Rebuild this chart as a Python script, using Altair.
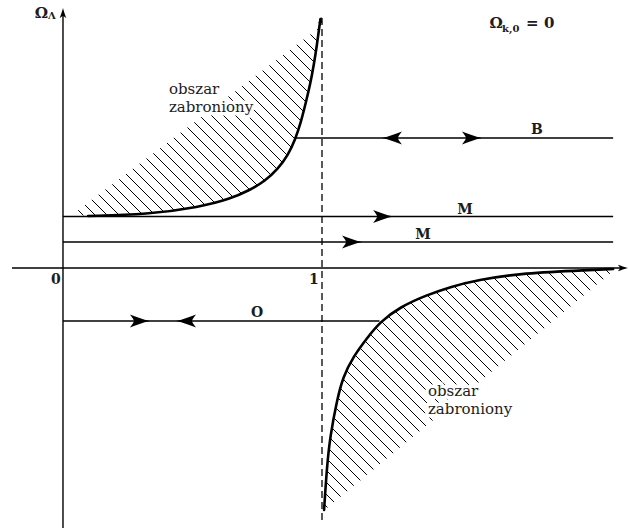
import numpy as np
import pandas as pd
import altair as alt

# Plot window in (Omega_m, Omega_Lambda) units and canvas size
X_DOMAIN = [-0.2432, 2.1853]
Y_DOMAIN = [-2.63, 2.68]
WIDTH, HEIGHT = 629, 531

# Boundary of the upper forbidden region (Omega_m -> 1 from below)
upper_x = [0.097, 0.324, 0.529, 0.645, 0.722, 0.780, 0.830, 0.869, 0.896,
           0.919, 0.938, 0.954, 0.969, 0.981, 0.988, 0.994]
upper_y = [0.52, 0.535, 0.61, 0.69, 0.78, 0.87, 0.99, 1.13, 1.28,
           1.46, 1.66, 1.83, 2.04, 2.24, 2.38, 2.49]
# outer (invisible) edge of the upper hatching
upper_edge_x = [0.039, 0.988]
upper_edge_y = [0.54, 2.40]

# Boundary of the lower forbidden region (Omega_m -> 1 from above)
lower_x = [1.008, 1.019, 1.031, 1.058, 1.081, 1.120, 1.174, 1.224, 1.301,
           1.405, 1.494, 1.598, 1.776, 2.035, 2.124]
lower_y = [-2.42, -1.99, -1.69, -1.32, -1.09, -0.89, -0.70, -0.54, -0.39,
           -0.27, -0.19, -0.12, -0.05, -0.02, -0.01]
lower_edge_x = [2.120, 1.019]
lower_edge_y = [-0.04, -2.40]

# Horizontal trajectories (Omega_Lambda = const)
traj_name = ["B", "M", "M", "O"]
traj_y = [1.30, 0.515, 0.26, -0.53]
traj_x0 = [0.893, 0.0, 0.0, 0.0]
traj_x1 = [2.124, 2.124, 2.124, 1.222]
traj_label_x = [1.830, 1.552, 1.390, 0.749]
traj_label_y = [1.385, 0.585, 0.335, -0.45]

# Direction arrows on the trajectories (0 = to the right, 180 = to the left)
arrow_x = [1.270, 1.579, 1.236, 1.116, 0.297, 0.475]
arrow_y = [1.30, 1.30, 0.515, 0.26, -0.53, -0.53]
arrow_angle = [180, 0, 0, 0, 0, 180]

# Axes
x_axis = dict(x=-0.197, x2=2.158, y=0.0)
y_axis = dict(x=0.0, y=-2.60, y2=2.54)
asymptote = dict(x=1.0, y=-2.52, y2=2.50)
axis_heads_x = [2.162, 0.0, 0.9955]
axis_heads_y = [0.0, 2.55, 2.48]
axis_heads_angle = [0, 270, 279]
axis_heads_size = [100, 100, 45]

tick_text = ["0", "1"]
tick_x = [-0.027, 0.969]
tick_y = [-0.12, -0.12]

region_text = ["obszar\nzabroniony", "obszar\nzabroniony"]
region_x = [0.409, 1.409]
region_y = [1.74, -1.28]

# arrowhead with a notched back, pointing right, in the [-1, 1] box
ARROW = ("M1,0 C0.3,-0.15 -0.4,-0.45 -1,-0.65 C-0.75,-0.3 -0.6,-0.12 -0.6,0 "
         "C-0.6,0.12 -0.75,0.3 -1,0.65 C-0.4,0.45 0.3,0.15 1,0 Z")


def to_px(x, y):
    px = (np.asarray(x, float) - X_DOMAIN[0]) / (X_DOMAIN[1] - X_DOMAIN[0]) * WIDTH
    py = (Y_DOMAIN[1] - np.asarray(y, float)) / (Y_DOMAIN[1] - Y_DOMAIN[0]) * HEIGHT
    return px, py


def to_data(px, py):
    x = X_DOMAIN[0] + px / WIDTH * (X_DOMAIN[1] - X_DOMAIN[0])
    y = Y_DOMAIN[1] - py / HEIGHT * (Y_DOMAIN[1] - Y_DOMAIN[0])
    return x, y


def hatch_segments(xs, ys, spacing=12.0):
    """45-degree hatch lines clipped to the polygon (xs, ys)."""
    px, py = to_px(xs, ys)
    c = px - py
    n = len(px)
    segs = []
    start = np.ceil(c.min() / spacing) * spacing
    for k in np.arange(start, c.max(), spacing):
        hits = []
        for i in range(n):
            j = (i + 1) % n
            a, b = c[i] - k, c[j] - k
            if (a < 0) != (b < 0):
                t = a / (a - b)
                hits.append((px[i] + t * (px[j] - px[i]), py[i] + t * (py[j] - py[i])))
        hits.sort()
        for h0, h1 in zip(hits[0::2], hits[1::2]):
            x0, y0 = to_data(*h0)
            x1, y1 = to_data(*h1)
            segs.append(dict(x=x0, y=y0, x2=x1, y2=y1))
    return segs


upper_poly_x = [upper_edge_x[0]] + upper_x[:-2] + [upper_edge_x[1]]
upper_poly_y = [upper_edge_y[0]] + upper_y[:-2] + [upper_edge_y[1]]
lower_poly_x = lower_x + lower_edge_x
lower_poly_y = lower_y + lower_edge_y
hatch = pd.DataFrame(hatch_segments(upper_poly_x, upper_poly_y)
                     + hatch_segments(lower_poly_x, lower_poly_y))

curves = pd.concat([
    pd.DataFrame({"x": upper_x, "y": upper_y, "curve": "upper", "i": range(len(upper_x))}),
    pd.DataFrame({"x": lower_x, "y": lower_y, "curve": "lower", "i": range(len(lower_x))}),
])
traj = pd.DataFrame({"name": traj_name, "y": traj_y, "x": traj_x0, "x2": traj_x1})
traj_labels = pd.DataFrame({"text": traj_name, "x": traj_label_x, "y": traj_label_y})
arrows = pd.DataFrame({"x": arrow_x, "y": arrow_y, "angle": arrow_angle})
heads = pd.DataFrame({"x": axis_heads_x, "y": axis_heads_y,
                      "angle": axis_heads_angle, "size": axis_heads_size})
ticks = pd.DataFrame({"text": tick_text, "x": tick_x, "y": tick_y})
regions = pd.DataFrame({"text": region_text, "x": region_x, "y": region_y})

omega_main = pd.DataFrame({"text": ["\u03a9", "\u03a9"], "x": [-0.083, 1.672], "y": [2.555, 2.455]})
omega_sub = pd.DataFrame({"text": ["\u039b", "k,0"], "x": [-0.058, 1.695], "y": [2.52, 2.39]})
omega_rest = pd.DataFrame({"text": ["= 0"], "x": [1.788], "y": [2.455]})

xsc = alt.Scale(domain=X_DOMAIN, nice=False, zero=False)
ysc = alt.Scale(domain=Y_DOMAIN, nice=False, zero=False)


def X(f="x"):
    return alt.X(f, type="quantitative", scale=xsc, axis=None)


def Y(f="y"):
    return alt.Y(f, type="quantitative", scale=ysc, axis=None)


FONT = "DejaVu Serif"
INK = "#1c1c1c"

hatch_layer = alt.Chart(hatch).mark_rule(color="black", strokeWidth=1.0).encode(
    x=X(), y=Y(), x2="x2:Q", y2="y2:Q")

xaxis_layer = alt.Chart(pd.DataFrame([x_axis])).mark_rule(color="black", strokeWidth=1.4).encode(
    x=X(), x2="x2:Q", y=Y())
yaxis_layer = alt.Chart(pd.DataFrame([y_axis])).mark_rule(color="black", strokeWidth=1.4).encode(
    x=X(), y=Y(), y2="y2:Q")
dash_layer = alt.Chart(pd.DataFrame([asymptote])).mark_rule(
    color="black", strokeWidth=1.3, strokeDash=[7, 4]).encode(x=X(), y=Y(), y2="y2:Q")

traj_layer = alt.Chart(traj).mark_rule(color="black", strokeWidth=1.3).encode(
    x=X(), x2="x2:Q", y=Y())

curve_layer = alt.Chart(curves).mark_line(
    color="black", strokeWidth=2.6, strokeCap="round", strokeJoin="round",
    interpolate="basis").encode(
    x=X(), y=Y(), detail="curve:N", order="i:Q")

arrow_layer = alt.Chart(arrows).mark_point(
    shape=ARROW, filled=True, color="black", opacity=1, strokeWidth=0, size=400).encode(
    x=X(), y=Y(), angle=alt.Angle("angle:Q", scale=None))

head_layer = alt.Chart(heads).mark_point(
    shape=ARROW, filled=True, color="black", opacity=1, strokeWidth=0).encode(
    x=X(), y=Y(), angle=alt.Angle("angle:Q", scale=None), size=alt.Size("size:Q", scale=None))

region_halo = alt.Chart(regions).mark_text(
    font=FONT, fontSize=15, align="left", baseline="alphabetic", lineBreak="\n",
    lineHeight=18, stroke="white", strokeWidth=7, strokeJoin="round", color="white").encode(
    x=X(), y=Y(), text="text:N")
region_text_layer = alt.Chart(regions).mark_text(
    font=FONT, fontSize=15, align="left", baseline="alphabetic", lineBreak="\n",
    lineHeight=18, color=INK).encode(x=X(), y=Y(), text="text:N")

traj_text = alt.Chart(traj_labels).mark_text(
    font=FONT, fontSize=14, fontWeight="bold", align="center", baseline="middle", color=INK).encode(
    x=X(), y=Y(), text="text:N")
tick_text_layer = alt.Chart(ticks).mark_text(
    font=FONT, fontSize=14, fontWeight="bold", align="center", baseline="middle", color=INK).encode(
    x=X(), y=Y(), text="text:N")

omega_layer = alt.Chart(omega_main).mark_text(
    font=FONT, fontSize=15, fontWeight="bold", align="center", baseline="middle", color=INK).encode(
    x=X(), y=Y(), text="text:N")
omega_sub_layer = alt.Chart(omega_sub).mark_text(
    font=FONT, fontSize=10, fontWeight="bold", align="left", baseline="middle", color=INK).encode(
    x=X(), y=Y(), text="text:N")
omega_rest_layer = alt.Chart(omega_rest).mark_text(
    font=FONT, fontSize=15, fontWeight="bold", align="left", baseline="middle", color=INK).encode(
    x=X(), y=Y(), text="text:N")

chart = alt.layer(
    hatch_layer, region_halo, region_text_layer,
    xaxis_layer, yaxis_layer, dash_layer, traj_layer, curve_layer,
    arrow_layer, head_layer,
    traj_text, tick_text_layer, omega_layer, omega_sub_layer, omega_rest_layer,
).properties(
    width=WIDTH, height=HEIGHT, padding=0, autosize="none", background="white"
).configure_view(stroke=None)

chart.save("out.html", embed_options={"renderer": "svg", "actions": False})
